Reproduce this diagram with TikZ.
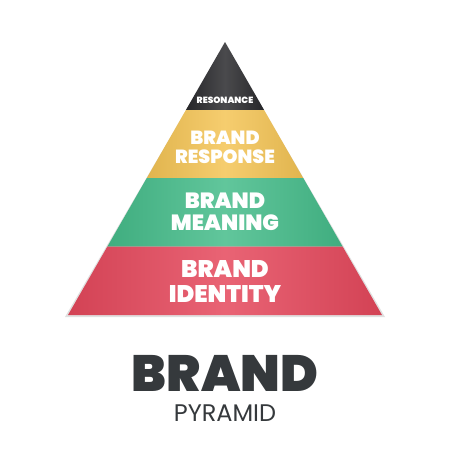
\documentclass[tikz,border=0pt]{standalone}
\usepackage{fontspec}
\setmainfont{Poppins}
\newfontfamily\blackfont{Poppins Black}
\definecolor{tipgray}{HTML}{2A2A2D}
\definecolor{respyellow}{HTML}{F4C455}
\definecolor{meangreen}{HTML}{45BC8A}
\definecolor{identred}{HTML}{E5485C}
\definecolor{titlegray}{HTML}{35393C}
\begin{document}
\begin{tikzpicture}[x=1pt,y=-1pt,
  layertext/.style={text=white,font=\blackfont,align=center,inner sep=0pt}]
  \useasboundingbox[fill=white] (0,0) rectangle (450,450);
  % shadow under the pyramid
  \fill[black!12] (225,44) -- (385,317) -- (65,317) -- cycle;
  % the four layers: top, bottom, half width at bottom, colour
  \foreach \top/\bot/\hw/\col in {42/110/39.1/tipgray,110/178/78.2/respyellow,
      178/246.5/117.6/meangreen,246.5/315/157/identred}
    \shade[left color=\col!92!black,right color=\col!92!black,middle color=\col!85!white]
      (225-\hw+0.575*\bot-0.575*\top,\top) -- (225+\hw-0.575*\bot+0.575*\top,\top)
      -- (225+\hw,\bot) -- (225-\hw,\bot) -- cycle;
  \node[layertext,font=\blackfont\fontsize{9}{10}\selectfont] (resonance) at (225,100) {RESONANCE};
  \node[layertext,font=\blackfont\fontsize{19}{19}\selectfont] (response) at (225,147) {BRAND\\RESPONSE};
  \node[layertext,font=\blackfont\fontsize{22}{22}\selectfont] (meaning) at (225,212) {BRAND\\MEANING};
  \node[layertext,font=\blackfont\fontsize{24}{25}\selectfont] (identity) at (225,281) {BRAND\\IDENTITY};
  \node[text=titlegray,font=\blackfont\fontsize{51}{51}\selectfont,inner sep=0pt,
    anchor=base,text depth=0pt] (brand) at (225,391) {BRAND};
  \node[text=titlegray,font=\fontsize{24}{24}\selectfont,inner sep=0pt,
    anchor=base,text height=17pt] (pyramid) at (225,421) {PYRAMID};
\end{tikzpicture}
\end{document}
